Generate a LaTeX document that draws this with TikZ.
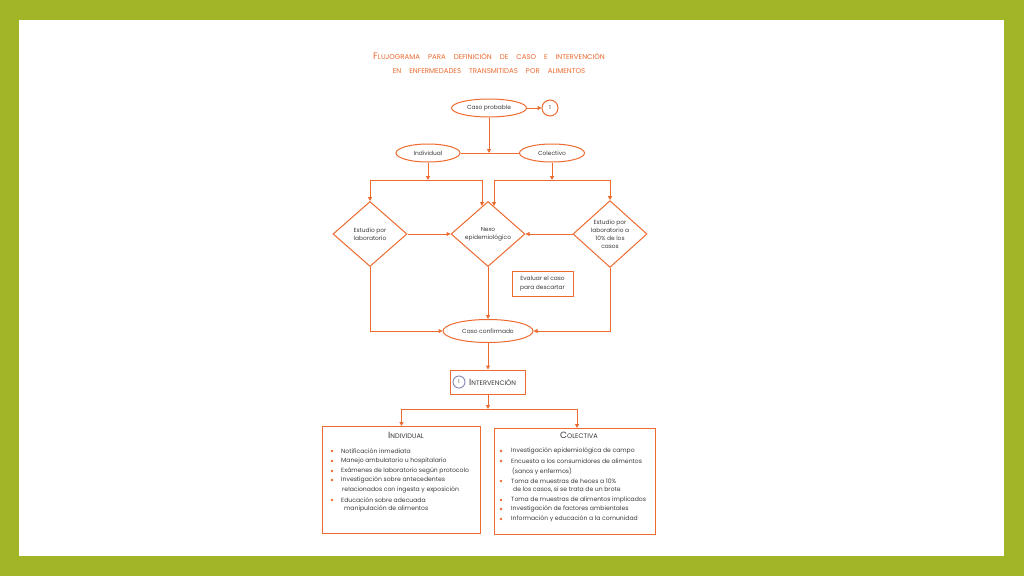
\documentclass[tikz,border=0pt]{standalone}
\usepackage{fontspec}
\setmainfont{Poppins}
\usetikzlibrary{shapes.geometric,arrows.meta,calc}
\definecolor{oc}{HTML}{EE6B2F}
\definecolor{grn}{HTML}{A1B526}
\definecolor{tx}{HTML}{3A3A3A}
\definecolor{cg}{HTML}{8C90B8}
\newcommand\SCx[2]{{\fontsize{9pt}{9pt}\selectfont #1}{\fontsize{6.6pt}{6.6pt}\selectfont #2}}
\newcommand\SCs[1]{{\fontsize{6.6pt}{6.6pt}\selectfont #1}}
\newcommand\TSx[2]{{\fontsize{9.4pt}{9.4pt}\selectfont #1}{\fontsize{7pt}{7pt}\selectfont #2}}
\newcommand\TSs[1]{{\fontsize{7pt}{7pt}\selectfont #1}}
\begin{document}
\begin{tikzpicture}[x=1pt,y=-1pt,
  ln/.style={draw=oc,line width=1pt},
  arr/.style={ln,-{Triangle[length=4pt,width=4pt]}},
  ell/.style={ellipse,draw=oc,line width=1pt,fill=white,inner sep=0pt,text=tx,font=\fontsize{5.9pt}{6.5pt}\selectfont},
  dia/.style={diamond,draw=oc,line width=1pt,fill=white,inner sep=0pt,minimum width=74pt,minimum height=65pt,text=tx,align=center,font=\fontsize{5.9pt}{8pt}\selectfont},
  bx/.style={rectangle,draw=oc,line width=1pt,fill=white,inner sep=0pt,text=tx,align=center,font=\fontsize{5.9pt}{9pt}\selectfont},
  circ/.style={circle,draw=oc,line width=1pt,fill=white,inner sep=0pt,minimum size=16pt,text=tx,font=\fontsize{5.5pt}{6pt}\selectfont},
  ttl/.style={text=oc,inner sep=0pt},
  item/.style={anchor=west,inner sep=0pt,text=tx,font=\fontsize{6.1pt}{6.5pt}\selectfont},
  dot/.style={circle,fill=oc,inner sep=0pt,minimum size=2.6pt},
  hd/.style={inner sep=0pt,text=tx}
]
\fill[grn] (0,0) rectangle (1024,576);
\fill[white] (19,20) rectangle (1004,556);
\useasboundingbox (0,0) rectangle (1024,576);

% title
\node[ttl] (t1) at (489,56) {\spaceskip=8pt\TSx{F}{LUJOGRAMA} \TSs{PARA} \TSs{DEFINICIÓN} \TSs{DE} \TSs{CASO} \TSs{E} \TSs{INTERVENCIÓN}};
\node[ttl] (t2) at (489,71) {\spaceskip=8pt\TSs{EN} \TSs{ENFERMEDADES} \TSs{TRANSMITIDAS} \TSs{POR} \TSs{ALIMENTOS}};

% nodes
\node[ell,minimum width=75pt,minimum height=18pt] (cp) at (489,108) {Caso probable};
\node[circ] (c1) at (550,108) {1};
\node[ell,minimum width=64pt,minimum height=18pt] (ind) at (428,153) {Individual};
\node[ell,minimum width=65pt,minimum height=18pt] (col) at (552,153) {Colectivo};
\node[dia] (d1) at (370,234) {Estudio por\\laboratorio};
\node[dia] (nx) at (488,234) {Nexo\\epidemiológico};
\node[dia] (d3) at (610,234) {Estudio por\\laboratorio a\\10\% de los\\casos};
\node[bx,minimum width=61pt,minimum height=25pt,line width=0.9pt] (ev) at (542.5,283.5) {Evaluar el caso\\para descartar};
\node[ell,minimum width=90pt,minimum height=23pt] (cc) at (488,331) {Caso confirmado};
\node[bx,minimum width=75pt,minimum height=24pt] (iv) at (488,382) {};
\node[circ,draw=cg,minimum size=12pt,font=\fontsize{5pt}{5pt}\selectfont] (c2) at (459,382) {1};
\node[hd,anchor=west] (ivt) at (469,382) {\SCx{I}{NTERVENCIÓN}};
\node[bx,minimum width=158pt,minimum height=107pt,anchor=north west] (bi) at (322,426) {};
\node[bx,minimum width=161pt,minimum height=106pt,anchor=north west] (bc) at (494,428) {};

% connector junctions
\coordinate (j0) at (489,153);
\coordinate (jI) at (428,180);
\coordinate (jC) at (552,180);
\coordinate (nxL) at (482,206);
\coordinate (nxR) at (494,206);
\coordinate (j2) at (488,409);
\coordinate (bcN) at (577,428);

\draw[arr] (cp) -- (c1);
\draw[ln] (ind) -- (col);
\draw[arr] (cp) -- (j0);
\draw[arr] (ind) -- (jI);
\draw[arr] (col) -- (jC);
\draw[arr] (jI) -| (d1.north);
\draw[arr] (jI) -| (nxL);
\draw[arr] (jC) -| (d3.north);
\draw[arr] (jC) -| (nxR);
\draw[arr] (d1.east) -- (nx.west);
\draw[arr] (d3.west) -- (nx.east);
\draw[arr] (d1.south) |- (cc.west);
\draw[arr] (nx.south) -- (cc.north);
\draw[arr] (d3.south) |- (cc.east);
\draw[arr] (cc.south) -- (iv.north);
\draw[arr] (iv.south) -- (j2);
\draw[arr] (j2) -| (bi.north);
\draw[arr] (j2) -| (bcN);

% Individual list
\node[hd] (hi) at (406,435) {\SCx{I}{NDIVIDUAL}};
\node[dot] (bi1) at (332,451) {};
\node[item] (i1) at (341,451) {Notificación inmediata};
\node[dot] (bi2) at (332,461) {};
\node[item] (i2) at (341,461) {Manejo ambulatorio u hospitalario};
\node[dot] (bi3) at (332,471) {};
\node[item] (i3) at (341,471) {Exámenes de laboratorio según protocolo};
\node[dot] (bi4) at (332,480) {};
\node[item] (i4) at (341,480) {Investigación sobre antecedentes};
\node[item] (i4b) at (342,490) {relacionados con ingesta y exposición};
\node[dot] (bi5) at (332,500) {};
\node[item] (i5) at (341,500) {Educación sobre adecuada};
\node[item] (i5b) at (344,509) {manipulación de alimentos};

% Colectiva list
\node[hd] (hc) at (579,435) {\SCx{C}{OLECTIVA}};
\node[dot] (bc1) at (501,451) {};
\node[item] (c1t) at (511,451) {Investigación epidemiológica de campo};
\node[dot] (bc2) at (501,461) {};
\node[item] (c2t) at (511,461) {Encuesta a los consumidores de alimentos};
\node[item] (c2b) at (512,471) {(sanos y enfermos)};
\node[dot] (bc3) at (501,481) {};
\node[item] (c3t) at (511,481) {Toma de muestras de heces a 10\%};
\node[item] (c3b) at (513,490) {de los casos, si se trata de un brote};
\node[dot] (bc4) at (501,500) {};
\node[item] (c4t) at (511,500) {Toma de muestras de alimentos implicados};
\node[dot] (bc5) at (501,509) {};
\node[item] (c5t) at (511,509) {Investigación de factores ambientales};
\node[dot] (bc6) at (501,519) {};
\node[item] (c6t) at (511,519) {Información y educación a la comunidad};
\end{tikzpicture}
\end{document}
